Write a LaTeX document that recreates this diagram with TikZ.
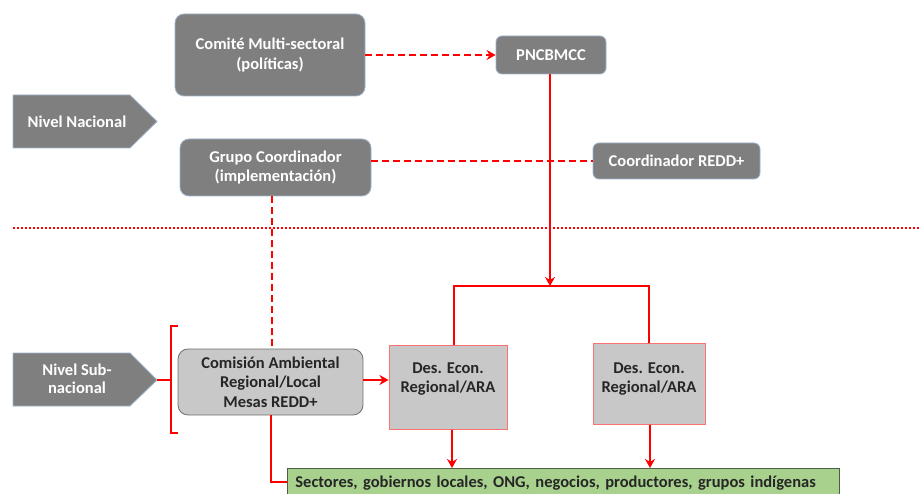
\documentclass[tikz,border=0pt]{standalone}
\usepackage{fontspec}
\setmainfont{Carlito}
\usetikzlibrary{arrows.meta,calc}
\definecolor{darkbox}{HTML}{7F7F7F}
\definecolor{darkedge}{HTML}{9DB3CC}
\definecolor{lightbox}{HTML}{C8C8C8}
\definecolor{lightedge}{HTML}{707070}
\definecolor{desedge}{HTML}{FF7070}
\definecolor{greenbox}{HTML}{A9D18E}
\definecolor{greenedge}{HTML}{4E5E45}
\definecolor{redline}{HTML}{FF0000}
\tikzset{
  bigfont/.style={font=\fontsize{16.5}{19.5}\selectfont\bfseries},
  darknode/.style={draw=darkedge, line width=0.8pt, fill=darkbox, rounded corners=9pt, text=white, bigfont, align=center, inner sep=0pt},
  lightnode/.style={draw=lightedge, line width=0.8pt, fill=lightbox, rounded corners=10pt, text=black!85, bigfont, align=center, inner sep=0pt},
  desnode/.style={draw=desedge, line width=1pt, fill=lightbox, inner sep=0pt},
  destext/.style={text=black!85, bigfont, align=center, inner sep=0pt},
  greennode/.style={draw=greenedge, line width=0.8pt, fill=greenbox, text=black!85, bigfont, inner xsep=8pt, inner ysep=0pt, align=left, text width=536pt},
  levelshape/.style={draw=darkedge, line width=0.8pt, fill=darkbox},
  leveltext/.style={text=white, font=\fontsize{16.5}{18.5}\selectfont\bfseries, align=center},
  redsolid/.style={draw=redline, line width=2pt},
  reddash/.style={draw=redline, line width=2pt, dash pattern=on 7pt off 4pt},
  reddot/.style={draw=redline, line width=1.8pt, dash pattern=on 2pt off 2pt},
  tip/.style={-{Stealth[length=9pt,width=10pt]}},
}
\begin{document}
\begin{tikzpicture}[x=1pt,y=-1pt]
\clip (0,0) rectangle (921,494);
\fill[white] (0,0) rectangle (921,494);

% level arrows
\draw[levelshape] (13,95) -- (130,95) -- (157,121.5) -- (130,148) -- (13,148) -- cycle;
\node[leveltext] (nacional) at (77,121.5) {Nivel Nacional};
\draw[levelshape] (13,353) -- (130,353) -- (157,380) -- (130,406) -- (13,406) -- cycle;
\node[leveltext] (subnacional) at (77,379) {Nivel Sub-\\nacional};
\coordinate (subtip) at (157,380);

% nodes
\node[darknode, minimum width=190pt, minimum height=82pt] (comite) at (270,55) {Comité Multi-sectoral\\(políticas)};
\node[darknode, rounded corners=6pt, minimum width=110pt, minimum height=38pt] (pnc) at (551,55) {PNCBMCC};
\node[darknode, minimum width=191pt, minimum height=57pt] (grupo) at (275.5,167.5) {Grupo Coordinador\\(implementación)};
\node[darknode, rounded corners=6pt, minimum width=167pt, minimum height=36pt] (coord) at (676.5,161) {Coordinador REDD+};
\node[lightnode, minimum width=185pt, minimum height=66pt] (comision) at (270.5,382) {Comisión Ambiental\\Regional/Local\\Mesas REDD+};
\node[desnode, minimum width=118pt, minimum height=84pt,
      label={[destext, yshift=8pt, name=des1text]center:{Des. Econ.\\Regional/ARA}}] (des1) at (448,387) {};
\node[desnode, minimum width=112pt, minimum height=81pt,
      label={[destext, yshift=4.5pt, name=des2text]center:{Des. Econ.\\Regional/ARA}}] (des2) at (649,383.5) {};
\node[greennode, minimum height=30pt, anchor=north west] (green) at (287,468) {Sectores, gobiernos locales, ONG, negocios, productores, grupos indígenas};

% separator
\coordinate (sepL) at (13,228);
\coordinate (sepR) at (921,228);
\draw[reddot] (sepL) -- (sepR);

% bracket
\coordinate (brT) at (178,326);
\coordinate (brB) at (178,433);
\draw[redsolid, line width=1.4pt] (brT) -- ++(-7,0) -- ($(brB)+(-7,0)$) -- (brB);
\draw[redsolid, line width=1.4pt] (subtip) -- (171,380);

% connectors
\draw[reddash, tip] (comite.east) -- (pnc.west);
\draw[reddash] (grupo.east |- coord.west) -- (coord.west);
\draw[reddash] (grupo.south -| 272,0) -- (comision.north -| 272,0);
\coordinate (split) at (550,286);
\draw[redsolid, tip] (pnc.south -| split) -- (split);
\draw[redsolid] (des1.north -| 454,0) -- (454,286) -- (649,286) -- (des2.north -| 649,0);
\draw[redsolid, tip] (comision.east |- 0,380) -- (des1.west |- 0,380);
\draw[redsolid, tip] (des1.south -| 452,0) -- (green.north -| 452,0);
\draw[redsolid, tip] (des2.south -| 650,0) -- (green.north -| 650,0);
\draw[redsolid] (comision.south -| 271,0) -- (271,482) -- (green.west |- 0,482);
\end{tikzpicture}
\end{document}
